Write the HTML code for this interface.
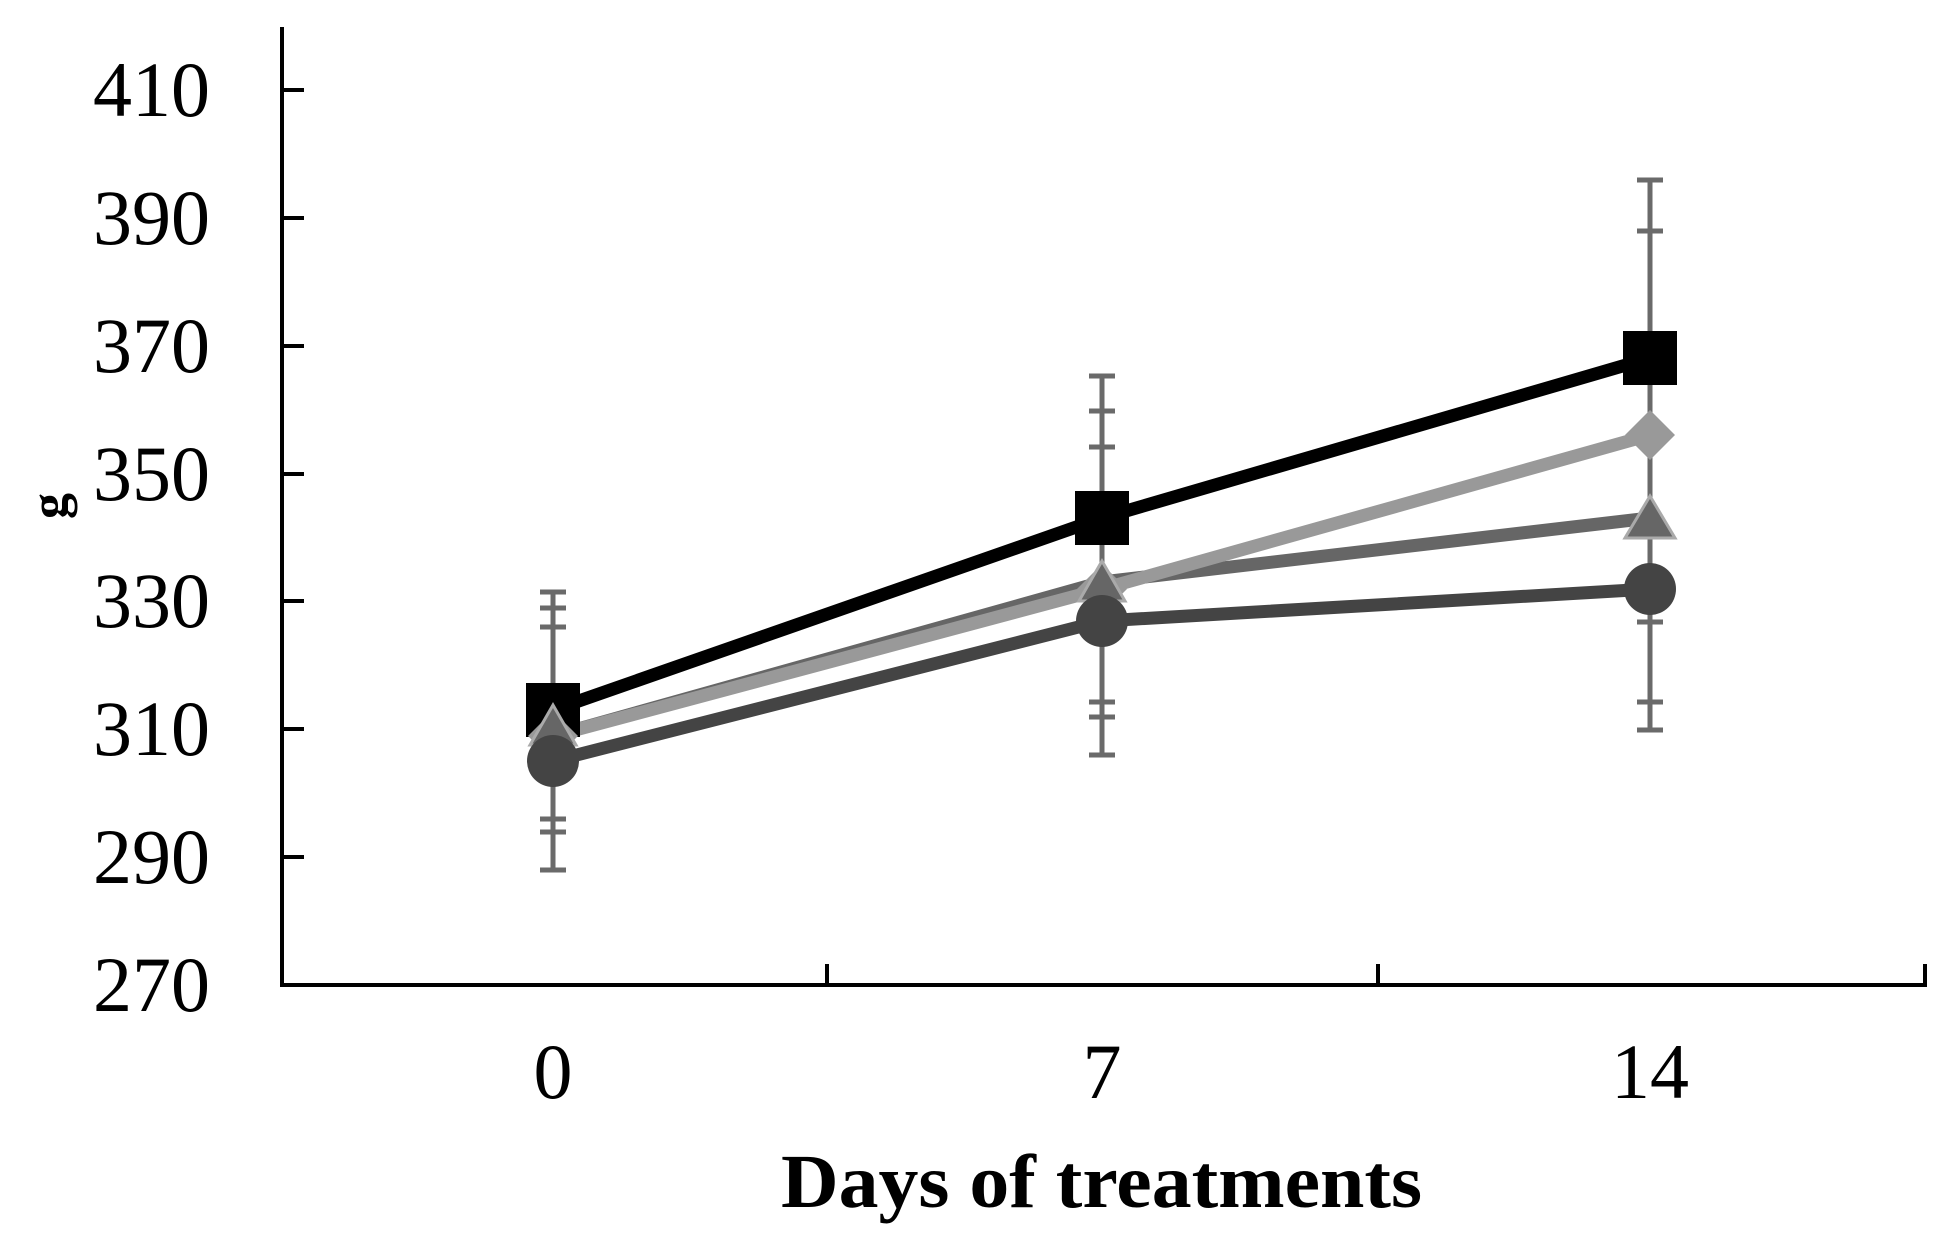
<!DOCTYPE html>
<html><head><style>html,body{margin:0;padding:0;background:#fff}</style></head><body>
<svg width="1950" height="1244" xmlns="http://www.w3.org/2000/svg" font-family="Liberation Serif, serif">
<rect width="1950" height="1244" fill="#fff"/>
<g stroke="#000" stroke-width="4" fill="none">
<line x1="282" y1="27" x2="282" y2="987"/>
<line x1="280" y1="985" x2="1927" y2="985"/>
<line x1="827" y1="985" x2="827" y2="964"/>
<line x1="1378" y1="985" x2="1378" y2="964"/>
<line x1="1925" y1="985" x2="1925" y2="964"/>
<line x1="282" y1="90" x2="304" y2="90"/>
<line x1="282" y1="218" x2="304" y2="218"/>
<line x1="282" y1="346" x2="304" y2="346"/>
<line x1="282" y1="474" x2="304" y2="474"/>
<line x1="282" y1="601" x2="304" y2="601"/>
<line x1="282" y1="729" x2="304" y2="729"/>
<line x1="282" y1="857" x2="304" y2="857"/>
</g>
<g font-size="78" text-anchor="end" fill="#000">
<text x="210" y="116">410</text><text x="210" y="244">390</text><text x="210" y="372">370</text>
<text x="210" y="500">350</text><text x="210" y="627">330</text><text x="210" y="755">310</text>
<text x="210" y="883">290</text><text x="210" y="1011">270</text>
</g>
<g font-size="78" text-anchor="middle" fill="#000">
<text x="553" y="1098">0</text><text x="1102" y="1098">7</text><text x="1650" y="1098">14</text>
</g>
<text x="781" y="1207" font-size="76" font-weight="bold" textLength="641" lengthAdjust="spacingAndGlyphs">Days of treatments</text>
<text transform="translate(66,506) rotate(-90)" font-size="52" font-weight="bold" text-anchor="middle">g</text>
<g stroke="#6a6a6a" stroke-width="5">
<line x1="553" y1="591" x2="553" y2="870"/>
<line x1="1102" y1="376" x2="1102" y2="755"/>
<line x1="1650" y1="180" x2="1650" y2="730"/>
<line x1="540" y1="592" x2="566" y2="592"/><line x1="540" y1="608" x2="566" y2="608"/><line x1="540" y1="627" x2="566" y2="627"/>
<line x1="540" y1="819" x2="566" y2="819"/><line x1="540" y1="832" x2="566" y2="832"/><line x1="540" y1="870" x2="566" y2="870"/>
<line x1="1089" y1="376" x2="1115" y2="376"/><line x1="1089" y1="411" x2="1115" y2="411"/><line x1="1089" y1="447" x2="1115" y2="447"/>
<line x1="1089" y1="702" x2="1115" y2="702"/><line x1="1089" y1="717" x2="1115" y2="717"/><line x1="1089" y1="755" x2="1115" y2="755"/>
<line x1="1637" y1="180" x2="1663" y2="180"/><line x1="1637" y1="231" x2="1663" y2="231"/>
<line x1="1637" y1="622" x2="1663" y2="622"/><line x1="1637" y1="702" x2="1663" y2="702"/><line x1="1637" y1="730" x2="1663" y2="730"/>
</g>
<g fill="none" stroke-width="13" stroke-linejoin="round">
<polyline points="553,761 1102,621 1650,589" stroke="#444"/>
<polyline points="553,736 1102,582 1650,518" stroke="#666"/>
<polyline points="553,736 1102,589 1650,435" stroke="#999"/>
<polyline points="553,710 1102,518 1650,358" stroke="#000"/>
</g>
<rect x="526" y="683" width="54" height="54" fill="#000"/>
<rect x="1075" y="491" width="54" height="54" fill="#000"/>
<rect x="1623" y="331" width="54" height="54" fill="#000"/>
<polygon points="1650,410 1675,435 1650,460 1625,435" fill="#999"/>
<polygon points="1102,564 1127,589 1102,614 1077,589" fill="#999"/>
<polygon points="553,711 578,736 553,761 528,736" fill="#999"/>
<polygon points="553,705 576,745 530,745" fill="#666" stroke="#aaa" stroke-width="3"/>
<polygon points="1102,561 1125,601 1079,601" fill="#666" stroke="#aaa" stroke-width="3"/>
<polygon points="1650,496 1675,538 1625,538" fill="#666" stroke="#aaa" stroke-width="3"/>
<circle cx="553" cy="761" r="26" fill="#444"/>
<circle cx="1102" cy="621" r="26" fill="#444"/>
<circle cx="1650" cy="589" r="26" fill="#444"/>
</svg>
</body></html>
